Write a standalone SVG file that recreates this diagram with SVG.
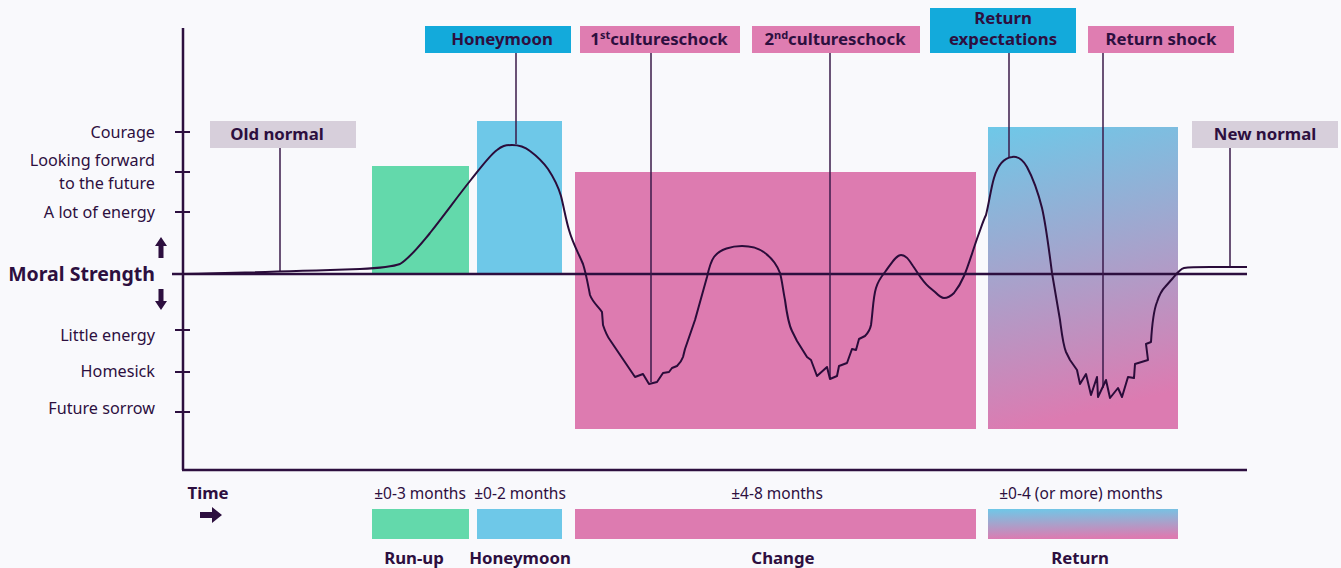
<svg xmlns="http://www.w3.org/2000/svg" width="1341" height="568" viewBox="0 0 1341 568">
<defs>
<linearGradient id="retGrad" x1="0" y1="0" x2="0.15" y2="1">
<stop offset="0" stop-color="#6ec8e8"/>
<stop offset="0.5" stop-color="#a6a3cc"/>
<stop offset="1" stop-color="#dc7bb1"/>
</linearGradient>
<linearGradient id="retGrad2" x1="0" y1="0" x2="0.1" y2="1">
<stop offset="0" stop-color="#6ec8e8"/>
<stop offset="0.5" stop-color="#a6a3cc"/>
<stop offset="1" stop-color="#dc7bb1"/>
</linearGradient>
</defs>
<style>
text{font-family:"Noto Sans","Open Sans","DejaVu Sans",sans-serif;fill:#2d0f3f}
.lbl{font-size:16.2px;text-anchor:end}
.b{font-weight:bold;font-size:16.8px;text-anchor:middle}
.m{font-size:15.5px;text-anchor:middle}
.ax{stroke:#2d0f3f;stroke-width:2.5;fill:none}
.tick{stroke:#2d0f3f;stroke-width:2}
.lead{stroke:#3a1a4a;stroke-width:1.5;fill:none}
.curve{stroke:#2a0c3a;stroke-width:2;fill:none;stroke-linejoin:round}
</style>
<rect width="1341" height="568" fill="#f9f9fc"/>

<g id="phase-areas">
<rect x="372" y="166" width="97" height="108" fill="#63d9ab"/>
<rect x="477" y="121" width="85" height="153" fill="#6ec8e8"/>
<rect x="575" y="172" width="401" height="257" fill="#dd7bb0"/>
<rect x="988" y="127" width="190" height="302" fill="url(#retGrad)"/>
</g>

<g id="axes">
<line class="ax" x1="183" y1="28" x2="183" y2="470"/>
<line class="ax" x1="182" y1="470" x2="1247" y2="470"/>
<line class="ax" x1="172" y1="274" x2="1247" y2="274"/>
<line class="tick" x1="175" y1="132" x2="190" y2="132"/>
<line class="tick" x1="175" y1="172" x2="190" y2="172"/>
<line class="tick" x1="175" y1="212" x2="190" y2="212"/>
<line class="tick" x1="175" y1="330" x2="190" y2="330"/>
<line class="tick" x1="175" y1="372" x2="190" y2="372"/>
<line class="tick" x1="175" y1="412" x2="190" y2="412"/>
</g>

<g id="y-labels">
<text class="lbl" x="155" y="138">Courage</text>
<text class="lbl" x="155" y="166">Looking forward</text>
<text class="lbl" x="155" y="189">to the future</text>
<text class="lbl" x="155" y="218">A lot of energy</text>
<text x="155" y="281" style="font-size:19.5px;font-weight:bold;text-anchor:end">Moral Strength</text>
<path d="M161,237 L167,246 L163.5,246 L163.5,258 L158.5,258 L158.5,246 L155,246 z" fill="#2d0f3f"/>
<path d="M161,310 L167,301 L163.5,301 L163.5,289 L158.5,289 L158.5,301 L155,301 z" fill="#2d0f3f"/>
<text class="lbl" x="155" y="341">Little energy</text>
<text class="lbl" x="155" y="377">Homesick</text>
<text class="lbl" x="155" y="414">Future sorrow</text>
</g>

<g id="connectors">
<line class="lead" x1="280" y1="148" x2="280" y2="272"/>
<line class="lead" x1="516" y1="53" x2="516" y2="144"/>
<line class="lead" x1="651" y1="53" x2="651" y2="382"/>
<line class="lead" x1="830" y1="53" x2="830" y2="378"/>
<line class="lead" x1="1009" y1="53" x2="1009" y2="157"/>
<line class="lead" x1="1103" y1="53" x2="1103" y2="388"/>
<line class="lead" x1="1230" y1="148" x2="1230" y2="266"/>
</g>

<g id="curve">
<path class="curve" d="M183,274 C240,273 300,271 360,269 C380,268 392,267 400,264 C410,258 420,245 430,233 C445,214 458,196 470,181 C482,166 490,155 497,150 C502,146 505,145 512,145 C520,145 525,147 530,151 C538,157 543,162 548,169 C554,178 558,186 561,196 C564,208 566,220 569,230 C573,244 578,252 583,264 C586,273 588,285 590,295 C593,303 599,307 602,312 L603,325 C605,331 607,336 610,340 L635,377 L643,374 L649,384 L657,382 L663,373 L669,372 L672,368 L677,366 C680,363 682,360 683,357 L685,349 L695,320 L707,277 C709,268 711,261 714,257 C720,249 732,246 742,246 C752,246 760,249 765,253 C773,259 777,265 780,273 C782,280 783,290 785,300 C787,315 789,325 792,331 L797,341 L807,357 L811,360 L817,376 L827,367 L830,379 L837,376 L839,366 L847,363 L852,349 L856,350 L859,339 L865,336 C868,333 870,330 871,325 C873,310 873,298 876,288 C878,281 881,277 885,272 C891,264 896,255 901,255 C906,255 909,260 913,266 C918,273 922,281 929,287 L935,292 C938,295 941,298 944,298 C948,298 951,296 954,293 C958,288 961,283 964,276 C968,267 973,250 978,236 C981,228 983,221 986,215 C989,203 991,188 994,178 C997,168 1003,158 1012,157 C1018,156 1023,160 1027,167 C1034,180 1039,196 1042,208 C1046,225 1049,250 1052,273 L1060,320 C1062,335 1063,345 1066,352 L1070,360 L1077,370 L1080,384 L1086,374 L1091,395 L1097,377 L1098,397 L1106,380 L1110,398 L1118,388 L1122,397 L1128,377 L1134,378 L1135,364 L1148,360 L1146,344 L1151,342 C1152,325 1153,312 1157,302 C1159,296 1161,291 1165,287 L1173,278 C1177,273 1180,269 1184,268 C1190,267 1195,267 1210,267 L1247,267"/>
</g>

<g id="label-old-normal">
<rect x="210" y="121" width="146" height="27" fill="#d7cfdb"/>
<text class="b" x="277" y="140">Old normal</text>
</g>
<g id="label-honeymoon">
<rect x="425" y="26" width="146" height="27" fill="#13aadb"/>
<text class="b" x="502" y="45">Honeymoon</text>
</g>
<g id="label-1st">
<rect x="580" y="26" width="160" height="27" fill="#df7db1"/>
<text class="b" x="659" y="45">1<tspan font-size="11" dy="-6">st</tspan><tspan dy="6">cultureschock</tspan></text>
</g>
<g id="label-2nd">
<rect x="752" y="26" width="168" height="27" fill="#df7db1"/>
<text class="b" x="835" y="45">2<tspan font-size="11" dy="-6">nd</tspan><tspan dy="6">cultureschock</tspan></text>
</g>
<g id="label-return-expectations">
<rect x="930" y="8" width="146" height="45" fill="#13aadb"/>
<text class="b" x="1003" y="24">Return</text>
<text class="b" x="1003" y="45">expectations</text>
</g>
<g id="label-return-shock">
<rect x="1088" y="26" width="146" height="27" fill="#df7db1"/>
<text class="b" x="1161" y="45">Return shock</text>
</g>
<g id="label-new-normal">
<rect x="1192" y="121" width="146" height="27" fill="#d7cfdb"/>
<text class="b" x="1265" y="140">New normal</text>
</g>

<g id="timeline">
<text x="208" y="499" style="font-weight:bold;font-size:16.8px;text-anchor:middle">Time</text>
<path d="M200,512 L212,512 L212,507 L222,515 L212,523 L212,518 L200,518 z" fill="#2d0f3f"/>
<text class="m" x="420" y="499">±0-3 months</text>
<text class="m" x="520" y="499">±0-2 months</text>
<text class="m" x="777" y="499">±4-8 months</text>
<text class="m" x="1081" y="499">±0-4 (or more) months</text>
<rect x="372" y="509" width="97" height="30" fill="#63d9ab"/>
<rect x="477" y="509" width="85" height="30" fill="#6ec8e8"/>
<rect x="575" y="509" width="401" height="30" fill="#dd7bb0"/>
<rect x="988" y="509" width="190" height="30" fill="url(#retGrad2)"/>
<text class="b" x="414" y="564">Run-up</text>
<text class="b" x="520" y="564">Honeymoon</text>
<text class="b" x="783" y="564">Change</text>
<text class="b" x="1080" y="564">Return</text>
</g>
</svg>
